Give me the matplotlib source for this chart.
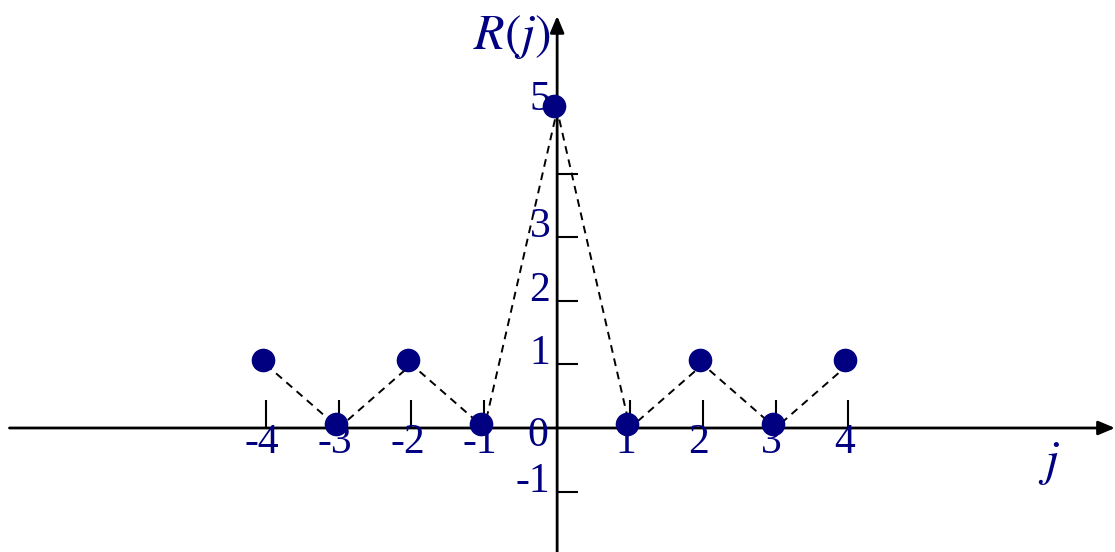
import matplotlib.pyplot as plt
from matplotlib.transforms import offset_copy

# autocorrelation values R(j) for lags -4..4
lags = [-4, -3, -2, -1, 0, 1, 2, 3, 4]
r_vals = [1, 0, 1, 0, 5, 0, 1, 0, 1]

x_ticks = [-4, -3, -2, -1, 1, 2, 3, 4]
y_ticks = [-1, 1, 2, 3, 4]
y_labels = {-1: '-1', 1: '1', 2: '2', 3: '3', 5: '5'}

NAVY = '#000080'
FONT = 'Liberation Serif'

fig = plt.figure(figsize=(11.15, 5.52), dpi=100)
ax = fig.add_axes([0, 0, 1, 1])
ax.set_xlim(-7.65, 7.66)
ax.set_ylim(-1.95, 6.73)
ax.axis('off')

# coordinate axes with arrow heads
arrow = dict(arrowstyle='-|>,head_length=1.0,head_width=0.42',
             color='black', lw=2, shrinkA=0, shrinkB=0)
ax.annotate('', xy=(7.66, 0), xytext=(-7.52, 0), arrowprops=arrow)
ax.annotate('', xy=(0, 6.48), xytext=(0, -1.95), arrowprops=arrow)

# ticks drawn by hand: x ticks point up, y ticks point right
for t in x_ticks:
    ax.plot([t, t], [0, 0.44], color='black', lw=1.5, solid_capstyle='butt')
    ax.annotate(str(t), xy=(t, 0), xytext=(-3, 3), textcoords='offset points',
                ha='center', va='top', fontsize=30, color=NAVY, family=FONT)
for t in y_ticks:
    ax.plot([0, 0.29], [t, t], color='black', lw=1.5, solid_capstyle='butt')
for v, s in y_labels.items():
    ax.annotate(s, xy=(0, v), xytext=(-5, 0), textcoords='offset points',
                ha='right', va='baseline', fontsize=30, color=NAVY, family=FONT)
ax.annotate('0', xy=(0, 0), xytext=(-14, 8), textcoords='offset points',
            ha='center', va='top', fontsize=30, color=NAVY, family=FONT)

# dashed polyline and dots
ax.plot(lags, r_vals, ls=(0, (4, 3)), color='black', lw=1.4, zorder=2)
dot_tr = offset_copy(ax.transData, fig=fig, x=-3, y=4, units='dots')
ax.plot(lags, r_vals, 'o', ms=16, color=NAVY, transform=dot_tr, zorder=3)

ax.text(-0.62, 6.15, r'$R(j)$', fontsize=36, color=NAVY, ha='center',
        va='center', math_fontfamily='stix')
ax.text(6.75, -0.55, r'$j$', fontsize=36, color=NAVY, ha='center',
        va='center', math_fontfamily='stix')

fig.savefig('out.png', dpi=100)
